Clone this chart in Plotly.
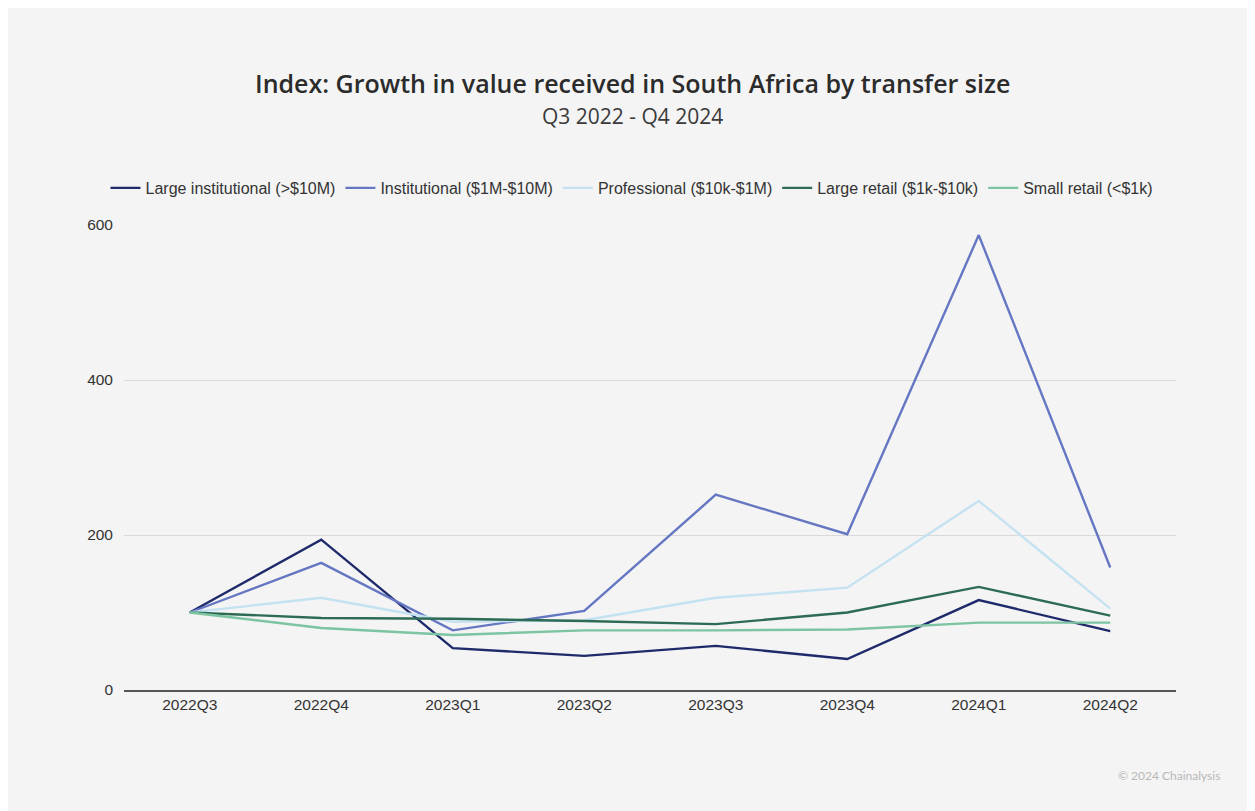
import plotly.graph_objects as go

quarters = ["2022Q3", "2022Q4", "2023Q1", "2023Q2", "2023Q3", "2023Q4", "2024Q1", "2024Q2"]

large_institutional = [100, 194, 54, 44, 57, 40, 116, 76]
institutional = [100, 164, 77, 102, 252, 201, 587, 158]
professional = [100, 119, 88, 90, 119, 132, 244, 105]
large_retail = [100, 93, 92, 89, 85, 100, 133, 96]
small_retail = [100, 80, 71, 77, 77, 78, 87, 87]

series_names = [
    "Large institutional (>$10M)",
    "Institutional ($1M-$10M)",
    "Professional ($10k-$1M)",
    "Large retail ($1k-$10k)",
    "Small retail (<$1k)",
]
series_values = [large_institutional, institutional, professional, large_retail, small_retail]
colors = ["#1f2a6b", "#6577c2", "#c4e2f2", "#2d6b55", "#7cc4a2"]

fig = go.Figure()
for name, vals, col in zip(series_names, series_values, colors):
    fig.add_trace(go.Scatter(
        x=quarters, y=vals, name=name, mode="lines",
        line=dict(color=col, width=2.4),
    ))

OFF = 8  # page body margin
W, H = 1255 - OFF, 811 - OFF
L, T = 124 - OFF, 225 - OFF
R = W - (1176 - OFF)
B = H - (690 - OFF)
pw, ph = W - L - R, H - T - B

def px_x(p):
    return (p - OFF - L) / pw

def px_y(p):
    return (H - B - (p - OFF)) / ph

bg = "#f4f4f4"

fig.add_annotation(text="Index: Growth in value received in South Africa by transfer size",
                   xref="paper", yref="paper", x=px_x(632), y=px_y(83),
                   showarrow=False,
                   font=dict(family="Open Sans, sans-serif", size=25, color="#2b2b2b", weight=600),
                   xanchor="center", yanchor="middle")
fig.add_annotation(text="Q3 2022 - Q4 2024",
                   xref="paper", yref="paper", x=px_x(632), y=px_y(116),
                   showarrow=False, font=dict(family="Open Sans, sans-serif", size=21, color="#3a3a3a"),
                   xanchor="center", yanchor="middle")
fig.add_annotation(text="© 2024 Chainalysis",
                   xref="paper", yref="paper", x=px_x(1222), y=px_y(775),
                   showarrow=False, font=dict(family="Lato, Open Sans, sans-serif", size=12, color="#b8b8b8"),
                   xanchor="right", yanchor="middle")

fig.update_layout(
    width=W, height=H,
    margin=dict(l=L, r=R, t=T, b=B, pad=0),
    paper_bgcolor=bg,
    plot_bgcolor=bg,
    showlegend=True,
    legend=dict(orientation="h", x=px_x(632), xanchor="center", y=px_y(188), yanchor="middle",
                font=dict(family="Liberation Sans, Arial, sans-serif", size=16, color="#333333"),
                bgcolor="rgba(0,0,0,0)", itemwidth=30, traceorder="normal"),
    font=dict(family="Liberation Sans, Arial, sans-serif", color="#333333"),
    xaxis=dict(type="category", range=[-0.5, 7.5], showgrid=False, showline=True,
               linecolor="#555555", linewidth=1.5, ticks="", zeroline=False,
               tickfont=dict(size=15.5, color="#333333")),
    yaxis=dict(range=[0, 600], tickvals=[0, 200, 400, 600], showgrid=True, gridcolor="#d9d9d9",
               gridwidth=1, zeroline=False, showline=False, ticks="",
               tickfont=dict(size=15.5, color="#333333"), ticklabelstandoff=10),
)

fig.write_html("out.html")
